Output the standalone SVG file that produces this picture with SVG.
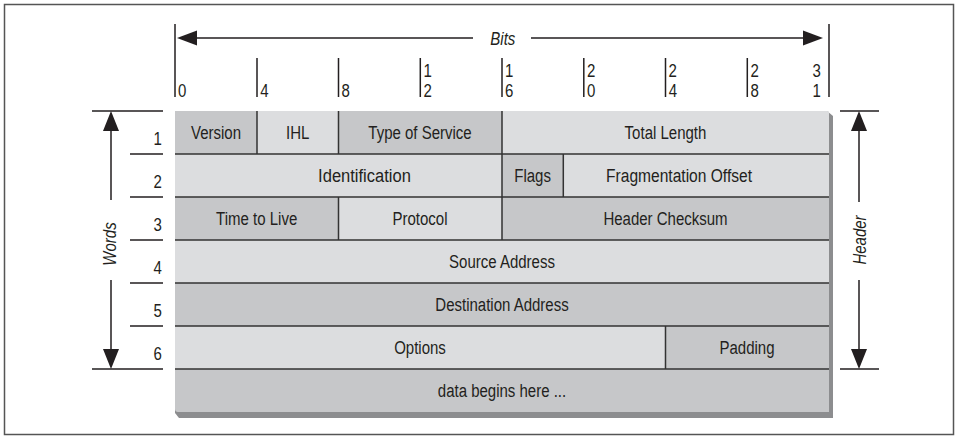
<svg xmlns="http://www.w3.org/2000/svg" width="958" height="436" viewBox="0 0 958 436">
<style>
text{font-family:"Liberation Sans",Arial,sans-serif;font-size:19px;fill:#231f20}
text:not(.r){transform-box:fill-box;transform-origin:center;transform:scaleX(.79)}
.c{text-anchor:middle}
.e{text-anchor:end}
.i{font-style:italic}
.ln{stroke:#333;stroke-width:1.5;fill:none}
.tk{stroke:#231f20;stroke-width:1.5;fill:none}
.ah{fill:#231f20}
.dk{fill:#c6c7c9}
.lt{fill:#dcdddf}
</style>
<rect x="4.5" y="4.5" width="949" height="430" fill="#fff" stroke="#555" stroke-width="1.5"/>
<g id="bits-ruler">
<path class="tk" d="M175,24V97M257,58V97M338.5,58V97M420.3,58V97M502,58V97M583.8,58V97M665.5,58V97M747.3,58V97M829,24V97"/>
<path class="tk" d="M195,38H473M531,38H805"/>
<polygon class="ah" points="177,38 197,30.5 197,45.5"/>
<polygon class="ah" points="823,38 803,30.5 803,45.5"/>
<text class="i" x="487" y="45">Bits</text>
<text x="177" y="97">0</text>
<text x="259" y="97">4</text>
<text x="340.5" y="97">8</text>
<text x="422.3" y="77">1</text><text x="422.3" y="97">2</text>
<text x="504" y="77">1</text><text x="504" y="97">6</text>
<text x="585.8" y="77">2</text><text x="585.8" y="97">0</text>
<text x="667.5" y="77">2</text><text x="667.5" y="97">4</text>
<text x="749.3" y="77">2</text><text x="749.3" y="97">8</text>
<text class="e" x="822" y="77">3</text><text class="e" x="822" y="97">1</text>
</g>
<g id="words-axis">
<path class="tk" d="M92,111H163M92,369H163M130,154H163M130,197H163M130,240H163M130,283H163M130,326H163"/>
<path class="tk" d="M111,130V200M111,280V350"/>
<polygon class="ah" points="111,111 103,131 119,131"/>
<polygon class="ah" points="111,369 103,349 119,349"/>
<text class="i c r" transform="translate(116,244) rotate(-90) scale(.79,1)">Words</text>
<text class="e" x="163" y="145">1</text>
<text class="e" x="163" y="188">2</text>
<text class="e" x="163" y="231">3</text>
<text class="e" x="163" y="274">4</text>
<text class="e" x="163" y="317">5</text>
<text class="e" x="163" y="360">6</text>
</g>
<g id="header-axis">
<path class="tk" d="M840,111H879M840,369H879"/>
<path class="tk" d="M859,130V202M859,280V350"/>
<polygon class="ah" points="859,111 851,131 867,131"/>
<polygon class="ah" points="859,369 851,349 867,349"/>
<text class="i c r" transform="translate(866,240) rotate(-90) scale(.79,1)">Header</text>
</g>
<g id="table">
<path d="M827,111L833,116V418H179L175,413V300Z" fill="#8c8d8f"/>
<path d="M175,111H827Q829,111 829,113V412H178Q175,412 175,409Z" class="dk"/>
<g id="row1">
<rect class="dk" x="175" y="111" width="82" height="43"/>
<rect class="lt" x="257" y="111" width="81.5" height="43"/>
<rect class="dk" x="338.5" y="111" width="163.5" height="43"/>
<path class="lt" d="M502,111H827Q829,111 829,113V154H502Z"/>
<text class="c" x="216" y="139">Version</text>
<text class="c" x="297.7" y="139">IHL</text>
<text class="c" x="420" y="139">Type of Service</text>
<text class="c" x="665.5" y="139">Total Length</text>
</g>
<g id="row2">
<rect class="lt" x="175" y="154" width="327" height="43"/>
<rect class="dk" x="502" y="154" width="61.3" height="43"/>
<rect class="lt" x="563.3" y="154" width="265.7" height="43"/>
<text class="c" x="364.5" y="182" style="transform:scaleX(.87)">Identification</text>
<text class="c" x="532.6" y="182">Flags</text>
<text class="c" x="679" y="182" style="transform:scaleX(.82)">Fragmentation Offset</text>
</g>
<g id="row3">
<rect class="dk" x="175" y="197" width="163.5" height="43"/>
<rect class="lt" x="338.5" y="197" width="163.5" height="43"/>
<rect class="dk" x="502" y="197" width="327" height="43"/>
<text class="c" x="256.7" y="225">Time to Live</text>
<text class="c" x="420" y="225">Protocol</text>
<text class="c" x="665.5" y="225">Header Checksum</text>
</g>
<g id="row4">
<rect class="lt" x="175" y="240" width="654" height="43"/>
<text class="c" x="502" y="268">Source Address</text>
</g>
<g id="row5">
<rect class="dk" x="175" y="283" width="654" height="43"/>
<text class="c" x="502" y="311">Destination Address</text>
</g>
<g id="row6">
<rect class="lt" x="175" y="326" width="490.5" height="43"/>
<rect class="dk" x="665.5" y="326" width="163.5" height="43"/>
<text class="c" x="420" y="354">Options</text>
<text class="c" x="747" y="354">Padding</text>
</g>
<g id="row7">
<text class="c" x="502" y="397">data begins here ...</text>
</g>
<path class="ln" d="M175,154H829M175,197H829M175,240H829M175,283H829M175,326H829M175,369H829"/>
<path class="ln" d="M257,111V154M338.5,111V154M502,111V154M502,154V197M563.3,154V197M338.5,197V240M502,197V240M665.5,326V369"/>
</g>
</svg>
